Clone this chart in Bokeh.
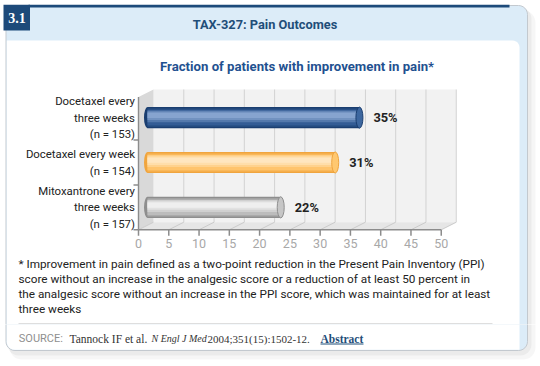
import math
from bokeh.plotting import figure
from bokeh.layouts import column
from bokeh.models import Range1d, FactorRange, ColumnDataSource
from bokeh.transform import dodge
from bokeh.core.properties import value
from bokeh.embed import file_html
from bokeh.resources import INLINE

# ---------------- data ----------------
CATEGORIES = ["Docetaxel every\nthree weeks\n(n = 153)",
              "Docetaxel every week\n(n = 154)",
              "Mitoxantrone every\nthree weeks\n(n = 157)"]
VALUES = [35, 31, 22]
VALUE_LABELS = ["35%", "31%", "22%"]
TICKS = [0, 5, 10, 15, 20, 25, 30, 35, 40, 45, 50]
TICK_LABELS = ["0", "5", "10", "15", "20", "25", "30", "35", "40", "45", "50"]
BADGE = "3.1"
TITLE = "TAX-327: Pain Outcomes"
SUBTITLE = "Fraction of patients with improvement in pain*"
FOOTNOTE = ["* Improvement in pain defined as a two-point reduction in the Present Pain Inventory (PPI)",
            "score without an increase in the analgesic score or a reduction of at least 50 percent in",
            "the analgesic score without an increase in the PPI score, which was maintained for at least",
            "three weeks"]
SOURCE_PARTS = ["SOURCE:", "Tannock IF et al.", "N Engl J Med", "2004;351(15):1502-12.", "Abstract"]

# ---------------- styles ----------------
EDGE = ["#1a3e70", "#f0a53e", "#8e8e8e"]
MID = ["#335c95", "#ffc46c", "#bcbcbc"]
HIGH = ["#86a4cf", "#ffe6bf", "#efefef"]
CAP = ["#3d679f", "#ffc870", "#c6c6c6"]

SANS = "Roboto"
SERIF = "Liberation Serif"

W, H = 540, 366
SCALE = 6.055           # px per percent
X0 = 138.0              # px of value 0 (front)
FLOOR = 229.3           # front floor line
UNIT = 44.87            # px per category
DX, DY = 15.0, 7.6      # 3D depth
BAR_DX = 9.0
CENTER = FLOOR - 1.5 * UNIT
BOT1 = int(round(2 * CENTER))
PAD = (BOT1 / 2.0) / UNIT - 1.5
H1 = BOT1
H2 = H - H1


def ys(y):  # px -> categorical synthetic coordinate
    return (FLOOR - y) / UNIT


def rrect(l, t, r, b, rad, n=6):
    tl, tr, br, bl = rad
    corners = [(l + tl, t + tl, 180, tl), (r - tr, t + tr, 270, tr),
               (r - br, b - br, 0, br), (l + bl, b - bl, 90, bl)]
    xs, yy = [], []
    for ccx, ccy, a0, rr in corners:
        if rr == 0:
            xs.append(ccx)
            yy.append(ccy)
            continue
        for k in range(n + 1):
            a = math.radians(a0 + 90 * k / n)
            xs.append(ccx + rr * math.cos(a))
            yy.append(ccy + rr * math.sin(a))
    return xs, yy


def xr(shift_px):
    return Range1d((0 - X0 - shift_px) / SCALE, (W - X0 - shift_px) / SCALE)


def panel(fig, fy):
    xs, yy = rrect(9, 10, 535, 359, (12, 12, 12, 12))
    fig.patch(xs, [fy(v) for v in yy], fill_color="#000000", fill_alpha=0.035, line_color=None)
    xs, yy = rrect(7, 7, 531, 355, (11, 11, 11, 11))
    fig.patch(xs, [fy(v) for v in yy], fill_color="#000000", fill_alpha=0.045, line_color=None)
    xs, yy = rrect(5.5, 5, 527, 350, (0, 9, 9, 9))
    fig.patch(xs, [fy(v) for v in yy], fill_color="#dcecf8", line_color="#c3c9cf", line_width=1)
    xs, yy = rrect(6.3, 40, 519, 349.3, (0, 7, 0, 8))
    fig.patch(xs, [fy(v) for v in yy], fill_color="#ffffff", line_color=None)


def txt(fig, x, y, text, font, size, color, style="normal", align="left", fy=None):
    fig.text(x=[x], y=[fy(y)], text=[text], text_font=value(font), text_font_size=size,
             text_color=color, text_font_style=style, text_align=align,
             text_baseline="middle")


# ================= figure 1: header, chart, footnote =================
p = figure(width=W, height=H1, output_backend="svg", toolbar_location=None,
           x_range=Range1d(0, W),
           y_range=FactorRange(factors=list(reversed(CATEGORIES)),
                               range_padding=PAD, range_padding_units="absolute"),
           x_axis_location=None, y_axis_location=None, min_border=0,
           outline_line_color=None, background_fill_color="white",
           border_fill_color="white")
p.grid.visible = False
p.extra_x_ranges = {"val": xr(0), "bar": xr(BAR_DX), "back": xr(DX)}

panel(p, ys)
p.quad(left=[28], right=[509], top=[ys(4.3)], bottom=[ys(7)], fill_color="#1d4a7a", line_color=None)
p.quad(left=[3], right=[29.5], top=[ys(4.3)], bottom=[ys(30)], fill_color="#1d4a7a", line_color=None)
txt(p, 16.5, 17.5, BADGE, SERIF, "14px", "#ffffff", style="bold", align="center", fy=ys)
txt(p, 264.5, 24, TITLE, SANS, "12.8px", "#1f4e79", style="bold", align="center", fy=ys)
txt(p, 296.5, 65.5, SUBTITLE, SANS, "13.2px", "#1f5190", style="bold", align="center", fy=ys)

# 3D box
back_l, back_r = X0 + DX, X0 + TICKS[-1] * SCALE + DX
front_r = X0 + TICKS[-1] * SCALE
wall_top = 89.0
floor_back = FLOOR - DY
p.patch([back_l, back_r, back_r, back_l], [ys(wall_top), ys(wall_top), ys(floor_back), ys(floor_back)],
        fill_color="#f2f2f2", line_color=None)
p.patch([X0, back_l, back_l, X0], [ys(wall_top + DY), ys(wall_top), ys(floor_back), ys(FLOOR)],
        fill_color="#d9d9d9", line_color=None)
p.patch([X0, front_r, back_r, back_l], [ys(FLOOR), ys(FLOOR), ys(floor_back), ys(floor_back)],
        fill_color="#e6e6e6", line_color=None)
p.segment(x0=TICKS[1:], x1=TICKS[1:], y0=[ys(wall_top)] * 10, y1=[ys(floor_back)] * 10,
          line_color="#d2d2d2", line_width=1, x_range_name="back")
p.segment(x0=TICKS, x1=[t + DX / SCALE for t in TICKS], y0=[ys(FLOOR)] * 11,
          y1=[ys(floor_back)] * 11, line_color="#cbcbcb", line_width=1, x_range_name="val")
# x axis: line, ticks, labels
p.segment(x0=[TICKS[0]], x1=[TICKS[-1]], y0=[ys(FLOOR)], y1=[ys(FLOOR)],
          line_color="#8c8c8c", line_width=1.6, x_range_name="val")
p.segment(x0=TICKS, x1=TICKS, y0=[ys(FLOOR)] * 11, y1=[ys(FLOOR + 6)] * 11,
          line_color="#8c8c8c", line_width=1.5, x_range_name="val")
p.text(x=TICKS, y=[ys(243)] * 11, text=TICK_LABELS, x_range_name="val",
       text_font=value(SANS), text_font_size="12.5px", text_color="#a8a8a8",
       text_align="center", text_baseline="middle")
# y axis: wall edge, separators, category labels
bounds = list(range(len(CATEGORIES)))
p.segment(x0=[X0], x1=[X0], y0=[ys(wall_top + DY)], y1=[0], line_color="#8c8c8c", line_width=1.4)
p.segment(x0=[X0 - 5] * len(bounds), x1=[X0] * len(bounds), y0=bounds, y1=bounds,
          line_color="#8c8c8c", line_width=1.4)
p.text(x=[X0 - 3.5] * len(CATEGORIES), y=CATEGORIES, text=CATEGORIES,
       text_font=value(SANS), text_font_size="11.4px", text_color="#222222",
       text_align="right", text_baseline="middle", text_line_height=1.2)


# bars
def mix(c1, c2, t):
    a = [int(c1[i:i + 2], 16) for i in (1, 3, 5)]
    b = [int(c2[i:i + 2], 16) for i in (1, 3, 5)]
    return "#%02x%02x%02x" % tuple(round(a[k] + (b[k] - a[k]) * t) for k in range(3))


src = ColumnDataSource(dict(cat=CATEGORIES, val=VALUES, zero=[0] * len(VALUES),
                            lbl=VALUE_LABELS, edge=EDGE, cap=CAP))
BAR_H = 0.47
p.ellipse(x="zero", y="cat", width=7, width_units="screen", height=BAR_H,
          fill_color="edge", line_color=None, source=src, x_range_name="bar")
layers = [(1.0, 0.0, EDGE, EDGE, 0.0), (0.86, 0.0, EDGE, MID, 0.6),
          (0.72, 0.0, MID, MID, 0.0), (0.56, 0.03, MID, HIGH, 0.4),
          (0.40, 0.04, MID, HIGH, 0.75), (0.24, 0.05, HIGH, HIGH, 0.0)]
for frac, off, c1, c2, t in layers:
    cols = [mix(a, b, t) for a, b in zip(c1, c2)]
    lsrc = ColumnDataSource(dict(cat=CATEGORIES, val=VALUES, col=cols))
    p.hbar(y=dodge("cat", off, range=p.y_range), left=0, right="val", height=BAR_H * frac,
           fill_color="col", line_color=None, source=lsrc, x_range_name="bar")
p.ellipse(x="val", y="cat", width=7, width_units="screen", height=BAR_H,
          fill_color="cap", line_color="edge", line_width=1, source=src, x_range_name="bar")
p.text(x="val", y="cat", text="lbl", source=src, x_range_name="bar", x_offset=14,
       text_baseline="middle", text_align="left", text_font=value(SANS),
       text_font_size="12.8px", text_font_style="bold", text_color="#222222")

# footnote + separator
for i, line in enumerate(FOOTNOTE):
    txt(p, 18, 263.5 + 14.9 * i, line, SANS, "11.75px", "#222222", fy=ys)
p.segment(x0=[18], x1=[492], y0=[ys(323)], y1=[ys(323)], line_color="#dedede", line_width=1)


# ================= figure 2: source line =================
def fy2(y):
    return y


q = figure(width=W, height=H2, output_backend="svg", toolbar_location=None,
           x_range=Range1d(0, W), y_range=Range1d(H, BOT1),
           x_axis_location=None, y_axis_location=None, min_border=0,
           outline_line_color=None, background_fill_color="white",
           border_fill_color="white")
q.grid.visible = False
panel(q, fy2)
txt(q, 18.3, 338, SOURCE_PARTS[0], SANS, "11px", "#8f8f8f", fy=fy2)
txt(q, 69, 338, SOURCE_PARTS[1], SERIF, "11.5px", "#333333", fy=fy2)
txt(q, 151, 338, SOURCE_PARTS[2], SERIF, "10px", "#333333", style="italic", fy=fy2)
txt(q, 207, 338, SOURCE_PARTS[3], SERIF, "11px", "#333333", fy=fy2)
txt(q, 320, 338, SOURCE_PARTS[4], SERIF, "11.5px", "#1f4e79", style="bold", fy=fy2)
q.segment(x0=[320], x1=[363], y0=[343.5], y1=[343.5], line_color="#1f4e79", line_width=1)

layout = column(p, q, spacing=0)
open("out.html", "w").write(file_html(layout, INLINE))
